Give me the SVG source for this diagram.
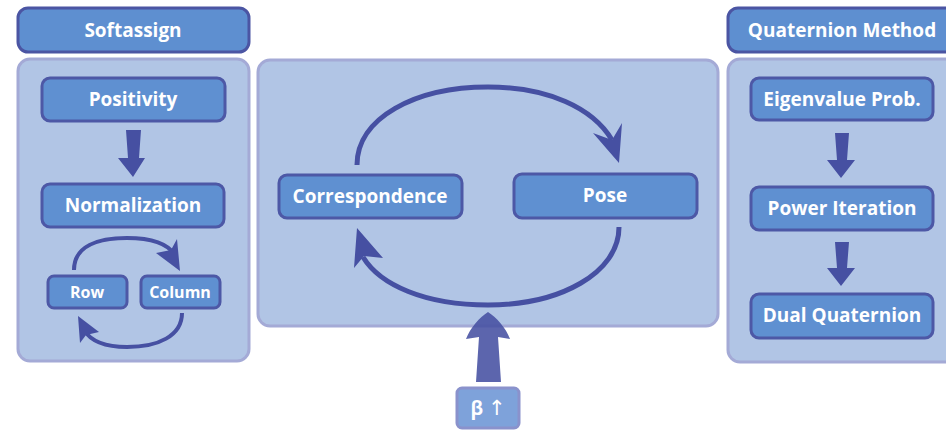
<svg xmlns="http://www.w3.org/2000/svg" width="946" height="430" viewBox="0 0 946 430">
<style>
.hdr{fill:#5e8fd0;stroke:#4b55a3;stroke-width:3}
.panel{fill:#b1c5e5;stroke:#a4aad6;stroke-width:3}
.box{fill:#5f90d1;stroke:#4d58a6;stroke-width:3}
.beta{fill:#7ea2da;stroke:#8a92cc;stroke-width:3}
.t{font-family:"Open Sans","Noto Sans",sans-serif;font-weight:bold;fill:#ffffff;text-anchor:middle;font-size:19px}
.ts{font-size:16px}
.arc{fill:none;stroke:#4650a2;stroke-linecap:butt}
.ah{fill:#4650a2}
</style>
<rect width="946" height="430" fill="#ffffff"/>
<g id="softassign-panel"><rect class="panel" x="18" y="59" width="231" height="302" rx="12"/></g>
<g id="center-panel"><rect class="panel" x="258" y="60" width="460" height="266" rx="12"/></g>
<g id="quaternion-panel"><rect class="panel" x="728" y="59" width="240" height="303" rx="12"/></g>
<g id="softassign"><rect class="hdr" x="18" y="8" width="231" height="44" rx="10"/><text class="t" x="133" y="37">Softassign</text></g>
<g id="quaternion-method"><rect class="hdr" x="728" y="8" width="240" height="44" rx="10"/><text class="t" x="842" y="37">Quaternion Method</text></g>
<g id="positivity"><rect class="box" x="42" y="78" width="183" height="43" rx="8"/><text class="t" x="133" y="106">Positivity</text></g>
<g id="normalization"><rect class="box" x="42" y="184" width="182" height="43" rx="8"/><text class="t" x="133" y="212">Normalization</text></g>
<g id="row"><rect class="box" x="48" y="276" width="79" height="32" rx="6"/><text class="t ts" x="87" y="298">Row</text></g>
<g id="column"><rect class="box" x="141" y="276" width="79" height="32" rx="6"/><text class="t ts" x="180" y="298">Column</text></g>
<g id="correspondence"><rect class="box" x="279" y="175" width="183" height="43" rx="8"/><text class="t" x="370" y="203">Correspondence</text></g>
<g id="pose"><rect class="box" x="514" y="174" width="183" height="44" rx="8"/><text class="t" x="605" y="202">Pose</text></g>
<g id="eigenvalue"><rect class="box" x="751" y="78" width="182" height="42" rx="8"/><text class="t" x="842" y="106">Eigenvalue Prob.</text></g>
<g id="power-iteration"><rect class="box" x="751" y="187" width="182" height="43" rx="8"/><text class="t" x="842" y="215">Power Iteration</text></g>
<g id="dual-quaternion"><rect class="box" x="751" y="294" width="182" height="44" rx="8"/><text class="t" x="842" y="322">Dual Quaternion</text></g>
<g id="beta"><rect class="beta" x="457" y="388" width="62" height="40" rx="5"/><text class="t" x="488" y="415">β <tspan font-family="'DejaVu Sans',sans-serif" font-weight="normal" font-size="21">↑</tspan></text></g>
<g id="connectors">
<path class="ah" d="M126,130 L141,130 L139,158 L145,158 L133,177 L118,158 L128,158 Z"/>
<path class="ah" d="M835,133 L849,133 L847,160 L855,160 L841,178 L827,160 L837,160 Z"/>
<path class="ah" d="M835,242 L849,242 L847,268 L855,268 L841,286 L827,268 L837,268 Z"/>
<path class="arc" stroke-width="4" d="M74,270 C74,246 98,238 127,238 C152,238 168,244 175,255"/>
<path class="ah" d="M180,271 L177,239 L171,250 L156,253 Z"/>
<path class="arc" stroke-width="4" d="M182,313 C182,336 158,347 127,347 C104,347 90,340 84,330"/>
<path class="ah" d="M78,316 L80,343 L86,335 L99,332 Z"/>
<path class="arc" stroke-width="5" d="M357,165 C357,118 415,87 488,87 C548,87 593,108 612,140"/>
<path class="ah" d="M619,163 L622,123 L612,140 L593,133 Z"/>
<path class="arc" stroke-width="5" d="M619,227 C619,273 560,305 488,305 C425,305 380,285 363,257"/>
<path class="ah" d="M357,228 L354,268 L364,256 L383,258 Z"/>
<path fill="#4650a2" fill-opacity="0.88" d="M488,312 C496,317 506,328 510,339 L498,337 L501,382 L476,382 L479,337 L466,339 C470,328 480,317 488,312 Z"/>
</g>
</svg>
